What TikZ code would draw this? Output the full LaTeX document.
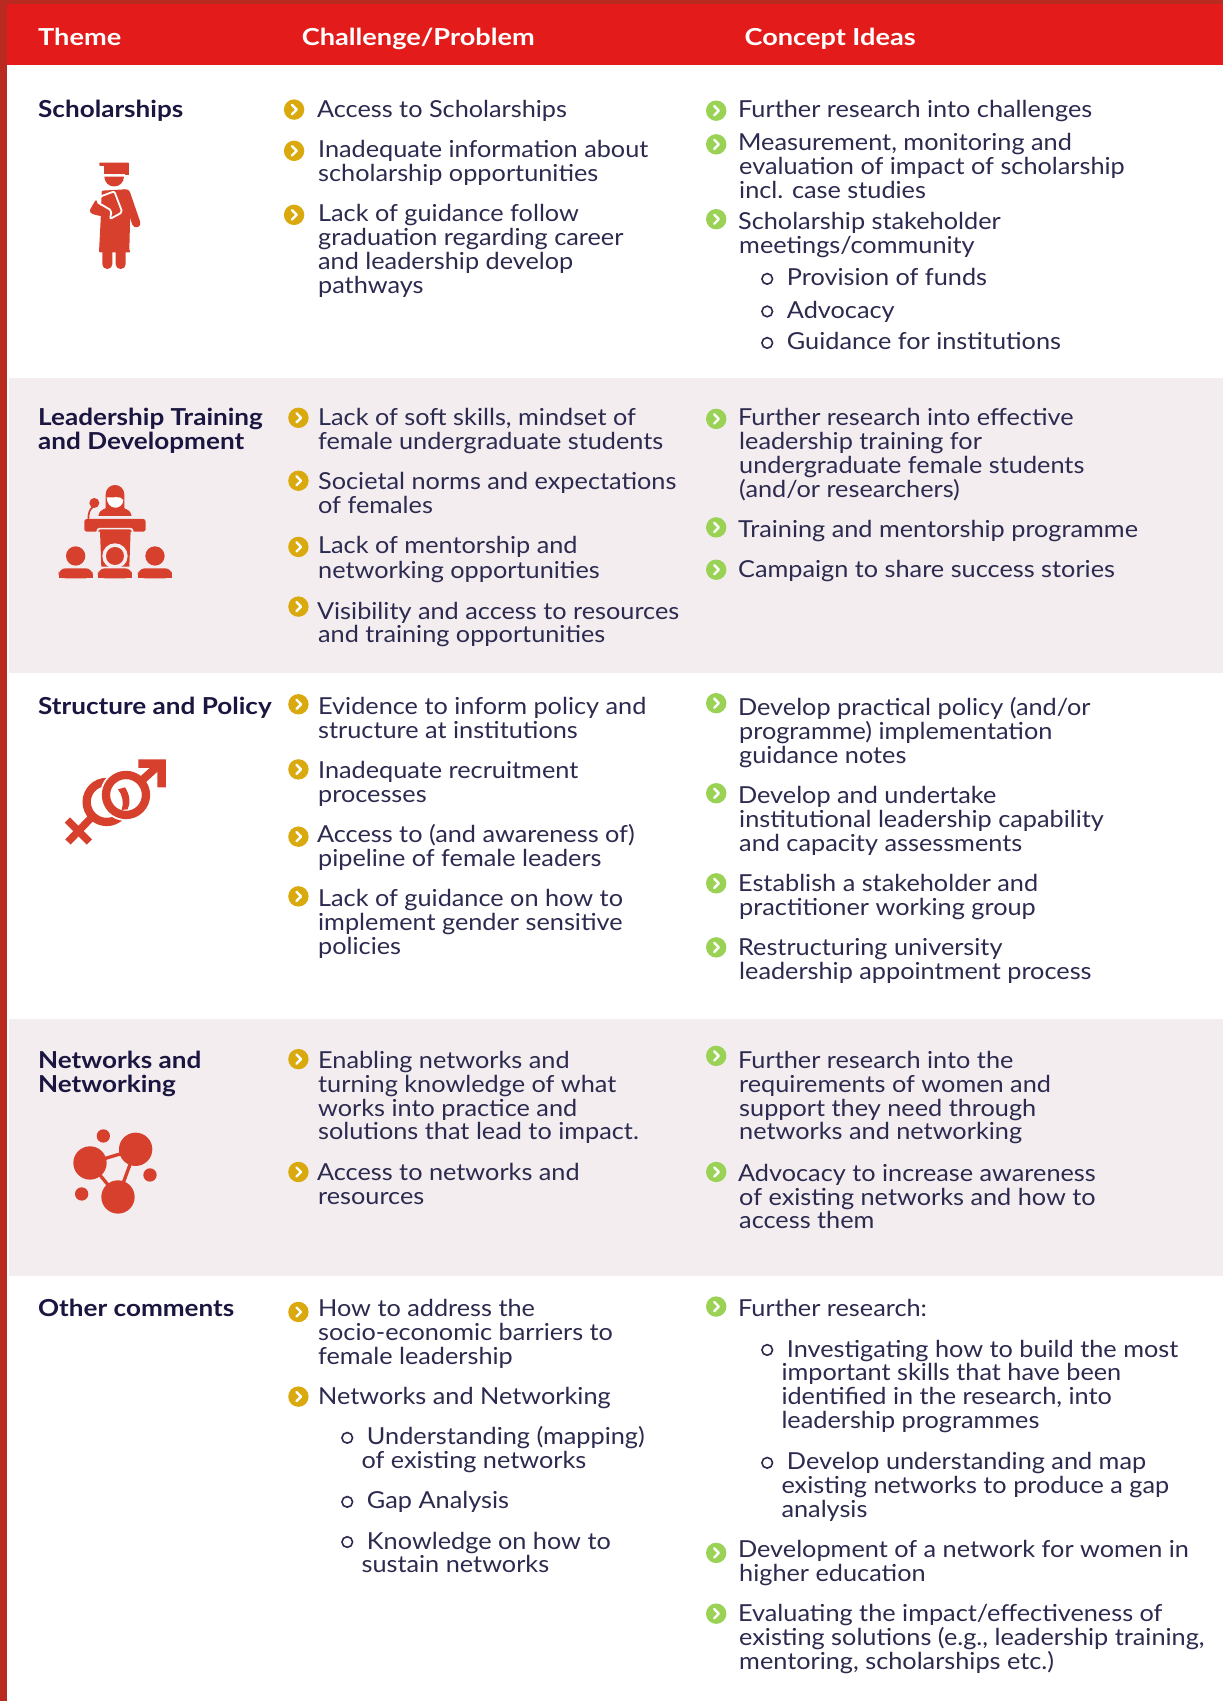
\documentclass[tikz,border=0pt]{standalone}
\usepackage{fontspec}
\setmainfont[FakeStretch=1.08]{Lato}
\newfontfamily\bfam[FakeStretch=1.115]{Lato}
\newfontfamily\hfam[FakeStretch=1.16]{Lato}
\definecolor{ink}{HTML}{2C2A4E}
\definecolor{dark}{HTML}{1A1640}
\definecolor{band}{HTML}{E31B1A}
\definecolor{strip}{HTML}{B92B20}
\definecolor{rowg}{HTML}{F3EDF0}
\definecolor{icon}{HTML}{D6402C}
\definecolor{yel}{HTML}{D9A90D}
\definecolor{grn}{HTML}{9AD255}
\newcount\tn
\tikzset{
  tx/.style={anchor=base west,inner sep=0pt,text=ink,font=\fontsize{23.4}{24}\selectfont},
  hd/.style={anchor=base west,inner sep=0pt,text=dark,font=\bfam\fontsize{23.4}{24}\selectfont\bfseries},
  hw/.style={anchor=base west,inner sep=0pt,text=white,font=\hfam\fontsize{23.4}{24}\selectfont\bfseries},
  chev/.style={white,line width=2.4pt,line cap=round,line join=round}
}
\newcommand\Tx[3]{\global\advance\tn by 1 \node[tx] (t\the\tn) at (#1,#2+7.5) {#3};}
\newcommand\Hh[3]{\global\advance\tn by 1 \node[hd] (t\the\tn) at (#1,#2+7.5) {#3};}
\newcommand\Wh[3]{\global\advance\tn by 1 \node[hw] (t\the\tn) at (#1,#2+8.6) {#3};}
\newcommand\Bul[3]{\begin{scope}[shift={(#2,#3)},x=1pt,y=1pt]\fill[#1] (0,0) circle[radius=10.2];\draw[chev] (-2,4.6)--(2.6,0)--(-2,-4.6);\end{scope}}
\newcommand\Yb[2]{\Bul{yel}{#1}{#2}}
\newcommand\Gb[2]{\Bul{grn}{#1}{#2}}
\newcommand\Ob[2]{\draw[ink,line width=1.6pt] (#1,#2+1) circle[radius=4.9];}
\begin{document}
\begin{tikzpicture}[x=1.0852pt,y=-1.0852pt]
\useasboundingbox (0,0) rectangle (1127,1567.5);
\fill[white] (0,0) rectangle (1127,1567.5);
\fill[rowg] (8,348) rectangle (1127,620);
\fill[rowg] (8,939) rectangle (1127,1176);
\fill[band] (6,3) rectangle (1127,60);
\fill[strip] (0,0) rectangle (1127,3.5);
\fill[strip] (0,0) rectangle (6.4,1567.5);
\Wh{35}{33}{Theme}
\Wh{278}{33}{Challenge/Problem}
\Wh{686}{33}{Concept Ideas}
% column 1
\Hh{35}{101}{Scholarships}
\Hh{35}{385}{Leadership Training}
\Hh{35}{407}{and Development}
\Hh{35}{651}{Structure and Policy}
\Hh{35}{977}{Networks and}
\Hh{35}{999}{Networking}
\Hh{35}{1206}{Other comments}
% column 2
\Yb{271}{101}\Yb{271}{139}\Yb{271}{198}
\Tx{292}{101}{Access to Scholarships}
\Tx{293}{138}{Inadequate information about}
\Tx{293}{160}{scholarship opportunities}
\Tx{293}{197}{Lack of guidance follow}
\Tx{293}{219}{graduation regarding career}
\Tx{293}{241}{and leadership develop}
\Tx{293}{263}{pathways}
\Yb{275}{385}\Yb{275}{443}\Yb{275}{504}\Yb{275}{559}
\Tx{293}{385}{Lack of soft skills, mindset of}
\Tx{293}{407}{female undergraduate students}
\Tx{293}{444}{Societal norms and expectations}
\Tx{293}{466}{of females}
\Tx{293}{503}{Lack of mentorship and}
\Tx{293}{526}{networking opportunities}
\Tx{292}{563}{Visibility and access to resources}
\Tx{293}{585}{and training opportunities}
\Yb{275}{649}\Yb{275}{709}\Yb{275}{771}\Yb{275}{826}
\Tx{293}{651}{Evidence to inform policy and}
\Tx{293}{673}{structure at institutions}
\Tx{293}{710}{Inadequate recruitment}
\Tx{293}{732}{processes}
\Tx{292}{769}{Access to (and awareness of)}
\Tx{293}{791}{pipeline of female leaders}
\Tx{293}{828}{Lack of guidance on how to}
\Tx{293}{850}{implement gender sensitive}
\Tx{293}{872}{policies}
\Yb{275}{976}\Yb{275}{1080}
\Tx{293}{977}{Enabling networks and}
\Tx{293}{999}{turning knowledge of what}
\Tx{293}{1021}{works into practice and}
\Tx{293}{1043}{solutions that lead to impact.}
\Tx{292}{1080}{Access to networks and}
\Tx{293}{1102}{resources}
\Yb{275}{1209}\Yb{275}{1287}
\Tx{293}{1206}{How to address the}
\Tx{293}{1228}{socio-economic barriers to}
\Tx{293}{1250}{female leadership}
\Tx{293}{1287}{Networks and Networking}
\Ob{320}{1324}\Ob{320}{1383}\Ob{320}{1420}
\Tx{338}{1324}{Understanding (mapping)}
\Tx{333}{1346}{of existing networks}
\Tx{338}{1383}{Gap Analysis}
\Tx{338}{1420}{Knowledge on how to}
\Tx{333}{1442}{sustain networks}
% column 3
\Gb{660}{102}\Gb{660}{133}\Gb{660}{202}
\Tx{680}{101}{Further research into challenges}
\Tx{680}{131}{Measurement, monitoring and}
\Tx{681}{153}{evaluation of impact of scholarship}
\Tx{681}{175}{incl. case studies}
\Tx{680}{204}{Scholarship stakeholder}
\Tx{681}{226}{meetings/community}
\Ob{707}{256}\Ob{707}{286}\Ob{707}{315}
\Tx{725}{256}{Provision of funds}
\Tx{725}{286}{Advocacy}
\Tx{725}{315}{Guidance for institutions}
\Gb{660}{386}\Gb{660}{486}\Gb{660}{525}
\Tx{680}{385}{Further research into effective}
\Tx{681}{407}{leadership training for}
\Tx{681}{429}{undergraduate female students}
\Tx{681}{451}{(and/or researchers)}
\Tx{680}{488}{Training and mentorship programme}
\Tx{680}{525}{Campaign to share success stories}
\Gb{660}{648}\Gb{660}{731}\Gb{660}{814}\Gb{660}{873}
\Tx{680}{652}{Develop practical policy (and/or}
\Tx{681}{674}{programme) implementation}
\Tx{681}{696}{guidance notes}
\Tx{680}{733}{Develop and undertake}
\Tx{681}{755}{institutional leadership capability}
\Tx{681}{777}{and capacity assessments}
\Tx{680}{814}{Establish a stakeholder and}
\Tx{681}{836}{practitioner working group}
\Tx{680}{873}{Restructuring university}
\Tx{681}{895}{leadership appointment process}
\Gb{660}{973}\Gb{660}{1080}
\Tx{680}{977}{Further research into the}
\Tx{681}{999}{requirements of women and}
\Tx{681}{1021}{support they need through}
\Tx{681}{1043}{networks and networking}
\Tx{680}{1081}{Advocacy to increase awareness}
\Tx{681}{1103}{of existing networks and how to}
\Tx{681}{1125}{access them}
\Gb{660}{1204}\Gb{660}{1431}\Gb{660}{1487}
\Tx{680}{1206}{Further research:}
\Ob{707}{1243}\Ob{707}{1347}
\Tx{725}{1243}{Investigating how to build the most}
\Tx{720}{1265}{important skills that have been}
\Tx{720}{1287}{identified in the research, into}
\Tx{720}{1309}{leadership programmes}
\Tx{725}{1347}{Develop understanding and map}
\Tx{720}{1369}{existing networks to produce a gap}
\Tx{720}{1391}{analysis}
\Tx{680}{1428}{Development of a network for women in}
\Tx{681}{1450}{higher education}
\Tx{680}{1487}{Evaluating the impact/effectiveness of}
\Tx{681}{1509}{existing solutions (e.g., leadership training,}
\Tx{681}{1531}{mentoring, scholarships etc.)}
% graduate icon
\begin{scope}[shift={(60pt,-150pt)},x=.3333pt,y=-.3333pt]
\fill[icon,rounded corners=.7pt] (118,38) rectangle (207,48);
\fill[icon] (133,46) rectangle (195,73);
\fill[icon] (195,46) rectangle (207,75);
\fill[icon] (133,80) -- (192,80) arc[start angle=0,delta angle=180,radius=29.5] -- cycle;
\fill[icon,rounded corners=1pt] (125,122) -- (196,118) -- (212,140) -- (208,300) -- (212,307) -- (117,307) -- (122,210) -- cycle;
\draw[icon,line width=8.3pt,line cap=round] (198,130) -- (229,220);
\fill[icon,rounded corners=1.5pt] (108,148) -- (88,183) -- (96,192) -- (150,205) -- cycle;
\fill[icon,rounded corners=4.8pt] (127,290) -- (157,290) -- (157,357) -- (127,357) -- cycle;
\fill[icon,rounded corners=4.8pt] (167,290) -- (197,290) -- (197,357) -- (167,357) -- cycle;
\draw[white,line width=1.8pt,rounded corners=2pt] (113,157) -- (120,140) -- (163,124) -- (187,187) -- (150,207) -- (155,182) -- (113,157);
\end{scope}
% speaker icon
\begin{scope}[shift={(40pt,-470pt)},x=.3333pt,y=-.3333pt]
\fill[icon] (197,125) -- (197,73) arc[start angle=180,delta angle=180,radius=28] -- (253,125) -- cycle;
\fill[icon] (175,138) arc[start angle=180,delta angle=180,x radius=50,y radius=28] -- cycle;
\fill[white] (200,82) .. controls (220,85) and (240,75) .. (250,90) .. controls (250,105) and (235,115) .. (225,113) .. controls (212,113) and (200,100) .. (200,82) -- cycle;
\fill[icon] (163,99) circle[radius=15];
\draw[icon,line width=1.7pt] (160,110) .. controls (148,118) and (145,130) .. (145,150);
\fill[icon,rounded corners=2.5pt] (133,147) rectangle (317,185);
\draw[rowg,line width=1.7pt,rounded corners=2.5pt] (172,190) -- (172,176) -- (278,176) -- (278,190);
\fill[icon] (180,182) -- (272,182) -- (268,290) -- (184,290) -- cycle;
\fill[rowg] (225,258) circle[radius=38];
\fill[icon] (225,258) circle[radius=27];
\fill[rowg] (172,291) rectangle (278,325);
\fill[icon] (107,258) circle[radius=29];
\fill[icon] (345,258) circle[radius=29];
\fill[icon,rounded corners=7pt] (56,325) -- (56,295) -- (158,295) -- (158,325) -- cycle;
\fill[icon,rounded corners=7pt] (174,325) -- (174,295) -- (276,295) -- (276,325) -- cycle;
\fill[icon,rounded corners=7pt] (294,325) -- (294,295) -- (396,295) -- (396,325) -- cycle;
\fill[icon] (56,312) rectangle (158,325);
\fill[icon] (174,312) rectangle (276,325);
\fill[icon] (294,312) rectangle (396,325);
\end{scope}
% gender icon
\begin{scope}[shift={(40pt,-740pt)},x=.3333pt,y=-.3333pt]
\draw[icon,line width=8.3pt] (200,186) circle[radius=60];
\draw[icon,line width=7.5pt] (155,232) -- (84,306);
\draw[icon,line width=7.5pt] (82,240) -- (148,306);
\fill[white] (258,165) circle[radius=78];
\draw[icon,line width=8.3pt] (258,165) circle[radius=60];
\draw[icon,line width=8pt] (305,122) -- (360,72);
\fill[icon] (295,58) -- (378,58) -- (378,142) -- (352,142) -- (352,84) -- (295,84) -- cycle;
\fill[icon] (234,148) -- (255,142) .. controls (270,165) and (272,190) .. (263,208) -- (245,210) .. controls (252,190) and (248,165) .. (234,148) -- cycle;
\end{scope}
% network icon
\begin{scope}[shift={(50pt,-1110pt)},x=.3333pt,y=-.3333pt]
\draw[icon,line width=3.3pt] (120,159) -- (257,118) -- (204,261) -- cycle;
\fill[icon] (120,159) circle[radius=50];
\fill[icon] (257,118) circle[radius=50];
\fill[icon] (204,261) circle[radius=50];
\fill[icon] (160,78) circle[radius=20];
\fill[icon] (300,195) circle[radius=20];
\fill[icon] (95,252) circle[radius=20];
\end{scope}
\end{tikzpicture}
\end{document}
